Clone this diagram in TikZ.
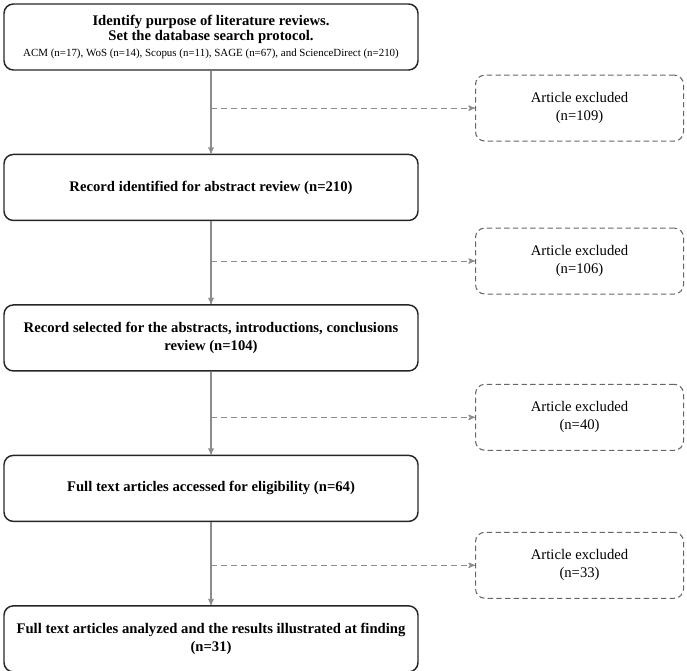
\documentclass[tikz,border=0pt]{standalone}
\usepackage{fontspec}
\setmainfont{Liberation Serif}
\usetikzlibrary{arrows,calc,positioning}

\begin{document}
\begin{tikzpicture}[node distance=62.25pt and 198pt,>=stealth',auto]
  \tikzstyle{stage}=[align=center,rectangle,rounded corners=7pt,line width=1.1pt,draw=black!85,minimum width=310.5pt,minimum height=49.5pt,font=\fontsize{11}{14}\selectfont\bfseries]
  \tikzstyle{excluded}=[align=center,rectangle,rounded corners=7pt,line width=0.8pt,draw=black!60,dash pattern=on 4pt off 2.5pt,minimum width=156pt,minimum height=49.5pt,font=\fontsize{11}{13.5}\selectfont]
  \tikzstyle{flow}=[draw=black!45,line width=0.8pt]

  \useasboundingbox (0,0) rectangle (515.25pt,-503.25pt);

  % Main stages.
  \node [stage] (m1) at (158.25pt,-27.75pt) {Identify purpose of literature reviews.\\[-2.5pt]
    Set the database search protocol.\\[-2pt]
    {\fontsize{8.2}{10}\selectfont\mdseries ACM (n=17), WoS (n=14), Scopus (n=11), SAGE (n=67), and ScienceDirect (n=210)}};
  \node [stage] (m2) [below=of m1] {Record identified for abstract review (n=210)};
  \node [stage] (m3) [below=of m2] {Record selected for the abstracts, introductions, conclusions\\review (n=104)};
  \node [stage] (m4) [below=of m3] {Full text articles accessed for eligibility (n=64)};
  \node [stage] (m5) [below=of m4] {Full text articles analyzed and the results illustrated at finding\\(n=31)};

  % Branch points.
  \coordinate (j1) at ($(m1.south)!0.45!(m2.north)$);
  \coordinate (j2) at ($(m2.south)!0.48!(m3.north)$);
  \coordinate (j3) at ($(m3.south)!0.55!(m4.north)$);
  \coordinate (j4) at ($(m4.south)!0.52!(m5.north)$);

  % Exclusions.
  \node [excluded] (x1) [right=of j1] {Article excluded\\(n=109)};
  \node [excluded] (x2) [right=of j2] {Article excluded\\(n=106)};
  \node [excluded] (x3) [right=of j3] {Article excluded\\(n=40)};
  \node [excluded] (x4) [right=of j4] {Article excluded\\(n=33)};

  \begin{scope}[flow]
   \draw [->] (m1.south) -- (m2.north);
   \draw [->] (m2.south) -- (m3.north);
   \draw [->] (m3.south) -- (m4.north);
   \draw [->] (m4.south) -- (m5.north);
   \draw [->,dash pattern=on 4.5pt off 3pt] (j1) -- (x1.west);
   \draw [->,dash pattern=on 4.5pt off 3pt] (j2) -- (x2.west);
   \draw [->,dash pattern=on 4.5pt off 3pt] (j3) -- (x3.west);
   \draw [->,dash pattern=on 4.5pt off 3pt] (j4) -- (x4.west);
  \end{scope}
\end{tikzpicture}
\end{document}
